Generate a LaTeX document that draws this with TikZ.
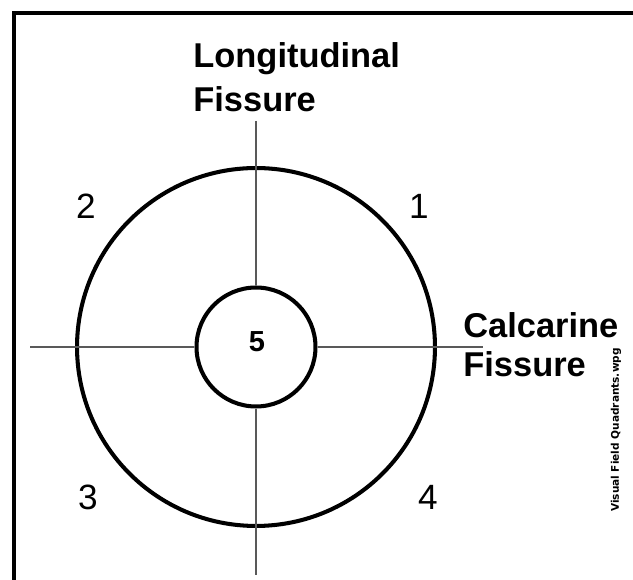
\documentclass[tikz,border=0pt]{standalone}
\usepackage{fontspec}
\setmainfont{Liberation Sans}
\newfontfamily\markfont{DejaVu Sans}
\begin{document}
\begin{tikzpicture}[x=0.02cm,y=-0.02cm,
    ring/.style={draw,circle,line width=2.3pt,inner sep=0pt},
    fissure/.style={black!65,line width=0.6pt},
    quad/.style={font=\fontsize{20}{24}\selectfont},
    title/.style={font=\bfseries\fontsize{19.6}{24}\selectfont,align=left,anchor=base west,inner sep=0pt}]
  \useasboundingbox (0,0) rectangle (633,580);
  \fill[white] (0,0) rectangle (633,580);
  % frame
  \draw[line width=1.8pt] (14,580)--(14,13)--(633,13);
  % circles
  \coordinate (c) at (256,347);
  \node[ring,minimum size=7.16cm] (outer) at (c) {};
  \node[ring,minimum size=2.38cm] (inner) at (c) {};
  \node[font=\bfseries\fontsize{16.5}{20}\selectfont] (five) at (257,342) {5};
  % fissures
  \coordinate (top) at (256,121);
  \coordinate (bot) at (256,575);
  \coordinate (left) at (30,347);
  \coordinate (right) at (483,347);
  \draw[fissure] (top)--(inner.north);
  \draw[fissure] (inner.south)--(bot);
  \draw[fissure] (left)--(inner.west);
  \draw[fissure] (inner.east)--(right);
  % labels
  \node[title] (long) at (193,112) {Longitudinal\\[1.5pt]Fissure};
  \node[title] (calc) at (463,377) {Calcarine\\[-1.3pt]Fissure};
  \node[quad] (q1) at (419,206) {1};
  \node[quad] (q2) at (86,206) {2};
  \node[quad] (q3) at (88,497) {3};
  \node[quad] (q4) at (428,497) {4};
  \node[rotate=90,font=\markfont\bfseries\fontsize{6}{7}\selectfont] (tag) at (616,430) {Visual Field Quadrants.wpg};
\end{tikzpicture}
\end{document}
